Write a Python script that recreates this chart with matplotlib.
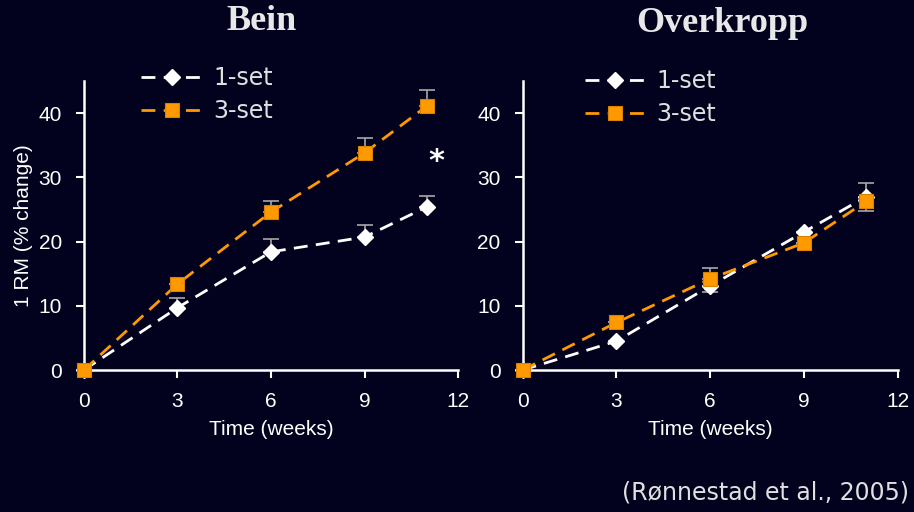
import matplotlib
matplotlib.use("Agg")
import matplotlib.pyplot as plt

# Data
weeks = [0, 3, 6, 9, 11]

bein_1set = [0, 9.7, 18.4, 20.7, 25.4]
bein_1set_err_up = [0, 1.5, 2.0, 1.9, 1.7]
bein_3set = [0, 13.4, 24.6, 33.8, 41.1]
bein_3set_err_up = [0, 0, 1.7, 2.3, 2.5]

over_1set = [0, 4.5, 13.1, 21.5, 27.0]
over_1set_err_lo = [0, 0, 1.0, 0, 0]
over_1set_err_up = [0, 0, 0, 0, 2.1]
over_3set = [0, 7.4, 14.2, 19.8, 26.3]
over_3set_err_lo = [0, 0, 0, 0, 1.6]
over_3set_err_up = [0, 0, 1.7, 0, 0]

xticks = [0, 3, 6, 9, 12]
yticks = [0, 10, 20, 30, 40]

bg = '#02021e'
orange = '#ff9900'
errc = '#a8a8a8'

fig = plt.figure(figsize=(9.14, 5.12), dpi=100, facecolor=bg)
ax1 = fig.add_axes([0.0919, 0.2773, 0.4092, 0.5645])
ax2 = fig.add_axes([0.5719, 0.2773, 0.4103, 0.5645])


def draw(ax, y1, e1, y3, e3, legx, legy):
    ax.set_facecolor(bg)
    ax.errorbar(weeks, y1, yerr=e1, fmt='none', ecolor=errc, elinewidth=1.2,
                capsize=6, capthick=1.2, clip_on=False, zorder=2)
    ax.errorbar(weeks, y3, yerr=e3, fmt='none', ecolor=errc, elinewidth=1.2,
                capsize=6, capthick=1.2, clip_on=False, zorder=2)
    ax.plot(weeks, y1, color='white', lw=2, dashes=(5, 3), marker='D',
            markersize=8, markerfacecolor='white', markeredgecolor='white',
            label='1-set', clip_on=False, zorder=3)
    ax.plot(weeks, y3, color=orange, lw=2, dashes=(5, 3), marker='s',
            markersize=10, markerfacecolor=orange, markeredgecolor='#d88200',
            markeredgewidth=0.8, label='3-set', clip_on=False, zorder=4)
    ax.set_xlim(0, 12)
    ax.set_ylim(0, 45)
    ax.set_xticks(xticks)
    ax.set_yticks(yticks)
    for s in ['top', 'right']:
        ax.spines[s].set_visible(False)
    for s in ['left', 'bottom']:
        ax.spines[s].set_color('white')
        ax.spines[s].set_linewidth(1.8)
    ax.tick_params(colors='white', width=1.5, length=6, labelsize=15,
                   direction='out', pad=10)
    for lab in ax.get_xticklabels() + ax.get_yticklabels():
        lab.set_family('Liberation Sans')
    ax.set_xlabel('Time (weeks)', color='white', fontsize=15,
                  family='Liberation Sans', labelpad=6)
    leg = ax.legend(loc='upper left', bbox_to_anchor=(legx, legy),
                    frameon=False, fontsize=17, handlelength=2.6,
                    handletextpad=0.45, labelspacing=0.4, borderaxespad=0)
    for t in leg.get_texts():
        t.set_color('#e0e0e0')


draw(ax1, bein_1set, [[0] * 5, bein_1set_err_up],
     bein_3set, [[0] * 5, bein_3set_err_up], 0.128, 1.085)
draw(ax2, over_1set, [over_1set_err_lo, over_1set_err_up],
     over_3set, [over_3set_err_lo, over_3set_err_up], 0.14, 1.075)

fig.text(262 / 914, 1 - 22 / 512, 'Bein', color='#e8e8e8', fontsize=26,
         fontweight='bold', family='Liberation Serif', ha='center', va='center')
fig.text(722 / 914, 1 - 24 / 512, 'Overkropp', color='#e8e8e8', fontsize=26,
         fontweight='bold', family='Liberation Serif', ha='center', va='center')

ax1.set_ylabel('1 RM (% change)', color='white', fontsize=15,
               family='Liberation Sans', labelpad=4)
ax1.text(11.3, 32.5, '*', color='white', fontsize=22, fontweight='bold',
         ha='center', va='center')

fig.text(0.994, 0.015, '(Rønnestad et al., 2005)', color='#e0e0e0',
         fontsize=17, ha='right', va='bottom')

fig.savefig('out.png', dpi=100, facecolor=bg)
